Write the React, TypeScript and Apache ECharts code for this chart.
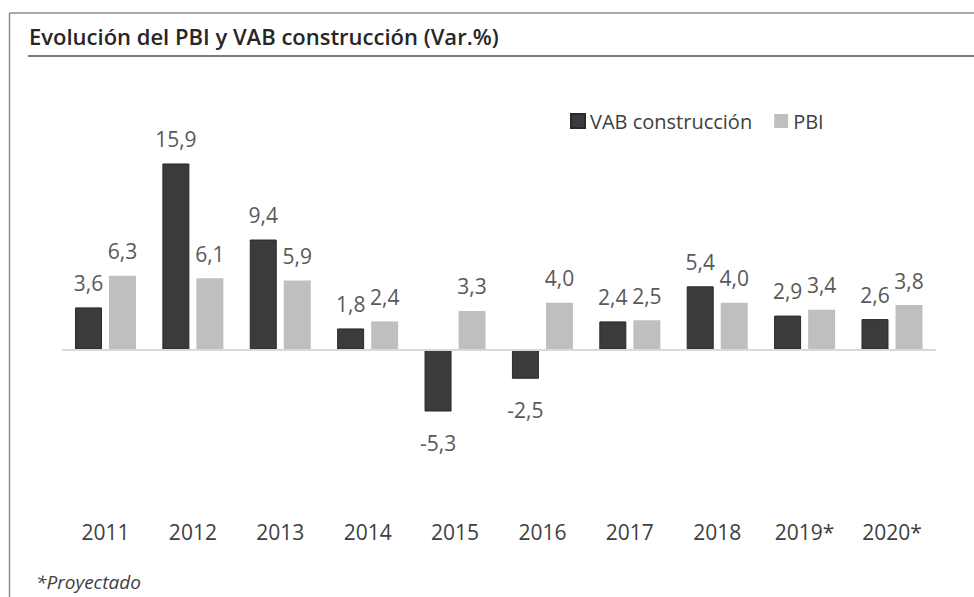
import React, { useEffect, useRef } from "react";
import * as echarts from "echarts";

const categories = ["2011", "2012", "2013", "2014", "2015", "2016", "2017", "2018", "2019*", "2020*"];
const vabConstruccion = [3.6, 15.9, 9.4, 1.8, -5.3, -2.5, 2.4, 5.4, 2.9, 2.6];
const pbi = [6.3, 6.1, 5.9, 2.4, 3.3, 4.0, 2.5, 4.0, 3.4, 3.8];
const titleText = "Evolución del PBI y VAB construcción (Var.%)";
const footnote = "*Proyectado";

const FONT = "'Open Sans', 'Noto Sans', sans-serif";
const fmt = (p: any) => Number(p.value).toFixed(1).replace(".", ",");

const mkData = (arr: number[]) =>
  arr.map((v) =>
    v < 0 ? { value: v, label: { position: "bottom", distance: 21 } } : { value: v }
  );

export default function App() {
  const ref = useRef<HTMLDivElement>(null);
  useEffect(() => {
    if (!ref.current) return;
    const chart = echarts.init(ref.current, undefined, { renderer: "svg" });
    const labelCommon = {
      show: true,
      position: "top",
      distance: 14,
      formatter: fmt,
      color: "#595959",
      fontSize: 21,
      fontFamily: FONT,
    };
    chart.setOption({
      animation: false,
      backgroundColor: "#ffffff",
      textStyle: { fontFamily: FONT },
      graphic: [
        { type: "line", shape: { x1: 9.5, y1: 13, x2: 974, y2: 13 }, style: { stroke: "#8c8c8c", lineWidth: 1.5 } },
        { type: "line", shape: { x1: 9.5, y1: 13, x2: 9.5, y2: 597 }, style: { stroke: "#8c8c8c", lineWidth: 1.5 } },
        { type: "line", shape: { x1: 28, y1: 56, x2: 974, y2: 56 }, style: { stroke: "#7a7a7a", lineWidth: 2 } },
        {
          type: "text",
          left: 29,
          top: 25,
          style: { text: titleText, fill: "#262626", font: `600 22px ${FONT}` },
        },
        {
          type: "text",
          left: 36,
          top: 572,
          style: { text: footnote, fill: "#404040", font: `italic 19px ${FONT}` },
        },
      ],
      legend: {
        left: 565,
        top: 106,
        itemWidth: 14,
        itemHeight: 14,
        itemGap: 22,
        icon: "rect",
        textStyle: { fontSize: 20, color: "#404040", fontFamily: FONT },
        data: ["VAB construcción", "PBI"],
      },
      grid: { left: 61.8, right: 38.3, top: 115.5, bottom: 83.7 },
      xAxis: {
        type: "category",
        data: categories,
        axisLine: { show: false },
        axisTick: { show: false },
        axisLabel: { color: "#404040", fontSize: 21, margin: 8, fontFamily: FONT },
        splitLine: { show: false },
      },
      yAxis: {
        type: "value",
        min: -14,
        max: 20,
        show: false,
        splitLine: { show: false },
      },
      series: [
        {
          name: "VAB construcción",
          type: "bar",
          data: mkData(vabConstruccion),
          barWidth: 27,
          barGap: "26%",
          itemStyle: { color: "#3b3b3b", borderColor: "#2a2a2a", borderWidth: 1 },
          label: labelCommon,
          markLine: {
            silent: true,
            symbol: "none",
            label: { show: false },
            lineStyle: { color: "#d9d9d9", type: "solid", width: 2 },
            data: [{ yAxis: 0 }],
          },
          z: 3,
        },
        {
          name: "PBI",
          type: "bar",
          data: mkData(pbi),
          barWidth: 27,
          itemStyle: { color: "#bfbfbf" },
          label: labelCommon,
          z: 3,
        },
      ],
    });
    return () => chart.dispose();
  }, []);
  return (
    <div
      ref={ref}
      style={{ position: "absolute", left: 0, top: 0, width: 974, height: 597 }}
    />
  );
}
